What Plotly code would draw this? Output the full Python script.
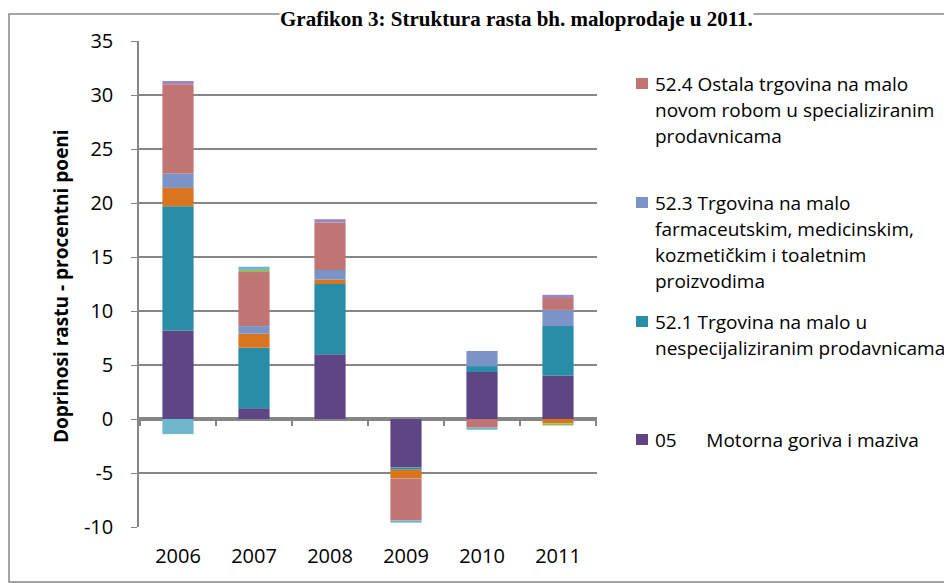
import plotly.graph_objects as go

years = ['2006', '2007', '2008', '2009', '2010', '2011']

s05 = [8.2, 1.0, 6.0, -4.5, 4.35, 4.0]
s521 = [11.5, 5.6, 6.5, -0.2, 0.55, 4.6]
s522 = [1.7, 1.3, 0.4, -0.8, 0.0, -0.4]
s523 = [1.3, 0.7, 0.9, 0.0, 1.4, 1.5]
s524 = [8.3, 5.0, 4.4, -3.9, -0.8, 1.1]
s_green = [0.0, 0.2, 0.0, 0.0, 0.0, -0.2]
s_lteal = [-1.4, 0.3, 0.0, -0.2, -0.2, 0.0]
s_lpurple = [0.3, 0.0, 0.3, 0.0, 0.0, 0.3]

y_ticks = [-10, -5, 0, 5, 10, 15, 20, 25, 30, 35]
y_ticktext = ['-10', '-5', '0', '5', '10', '15', '20', '25', '30', '35']

series = [
    ('05 Motorna goriva i maziva', s05, '#5e4583'),
    ('52.1', s521, '#288ea8'),
    ('52.2', s522, '#d9741f'),
    ('52.3', s523, '#7b93c6'),
    ('52.4', s524, '#c07574'),
    ('ostalo 1', s_green, '#9bbb59'),
    ('ostalo 2', s_lteal, '#70b7cc'),
    ('ostalo 3', s_lpurple, '#9a88bd'),
]

# page has an 8px body margin, so the figure sits at (8, 8)
OFF = 8
W, H = 952 - OFF, 583 - OFF
# plot area in screen pixels
SL, SR, ST, SB = 139, 597, 41, 527
L, R, T, B = SL - OFF, SR - OFF, ST - OFF, SB - OFF


def px(x):
    return (x - SL) / (SR - SL)


def py(y):
    return (SB - y) / (SB - ST)


fig = go.Figure()
for name, vals, col in series:
    fig.add_trace(go.Bar(x=years, y=vals, name=name, marker_color=col,
                         marker_line_width=0, showlegend=False))

grey = '#868686'
font = 'Open Sans, sans-serif'

shapes = []
# outer frame
shapes.append(dict(type='rect', xref='paper', yref='paper',
                   x0=px(9), x1=px(950.5), y0=py(582), y1=py(14),
                   line=dict(color=grey, width=1.5), layer='below'))
# tick marks under the zero axis
for i in range(len(years) + 1):
    shapes.append(dict(type='line', xref='x', yref='y', x0=i - 0.5, x1=i - 0.5,
                       y0=0, y1=-0.65, line=dict(color=grey, width=2)))

annotations = [
    dict(text='<b>Grafikon 3: Struktura rasta bh. maloprodaje u 2011.</b>',
         xref='paper', yref='paper', x=px(516), y=py(19), showarrow=False,
         font=dict(family='Liberation Serif, Times New Roman, serif', size=21, color='#000'),
         xanchor='center', yanchor='middle', bgcolor='white', borderpad=0),
    dict(text='<b>Doprinosi rastu - procentni poeni</b>', textangle=-90,
         xref='paper', yref='paper', x=px(61), y=py(286), showarrow=False,
         font=dict(family=font, size=19, color='#000'),
         xanchor='center', yanchor='middle'),
]

legend_items = [
    ('#c07574', ['52.4 Ostala trgovina na malo', 'novom robom u specializiranim', 'prodavnicama'], 84),
    ('#7b93c6', ['52.3 Trgovina na malo', 'farmaceutskim, medicinskim,', 'kozmetičkim i toaletnim', 'proizvodima'], 203),
    ('#288ea8', ['52.1 Trgovina na malo u', 'nespecijaliziranim prodavnicama'], 322),
    ('#5e4583', ['05\u00a0\u00a0\u00a0\u00a0\u00a0\u00a0Motorna goriva i maziva'], 440),
]
for col, lines, y0 in legend_items:
    shapes.append(dict(type='rect', xref='paper', yref='paper',
                       x0=px(636), x1=px(648), y0=py(y0 + 5), y1=py(y0 - 6),
                       fillcolor=col, line=dict(width=0)))
    for k, line in enumerate(lines):
        annotations.append(dict(text=line, xref='paper', yref='paper',
                                x=px(653), y=py(y0 + 26 * k), showarrow=False,
                                xanchor='left', yanchor='middle',
                                font=dict(family=font, size=19, color='#000')))

fig.update_layout(
    barmode='relative',
    bargap=0.59,
    width=W, height=H,
    margin=dict(l=L, r=W - R, t=T, b=H - B),
    paper_bgcolor='white', plot_bgcolor='white',
    shapes=shapes,
    annotations=annotations,
    font=dict(family=font, size=20, color='#000'),
    xaxis=dict(showline=False, ticks='', ticklabelstandoff=15,
               tickfont=dict(size=20)),
    yaxis=dict(range=[-10, 35], tickvals=y_ticks, ticktext=y_ticktext,
               showgrid=True, gridcolor=grey, gridwidth=1.5, zeroline=True,
               zerolinecolor=grey, zerolinewidth=4,
               showline=True, linecolor=grey, linewidth=1.5,
               ticks='outside', ticklen=6, tickcolor=grey,
               ticklabelstandoff=14, tickfont=dict(size=20)),
)

fig.write_html('out.html')
